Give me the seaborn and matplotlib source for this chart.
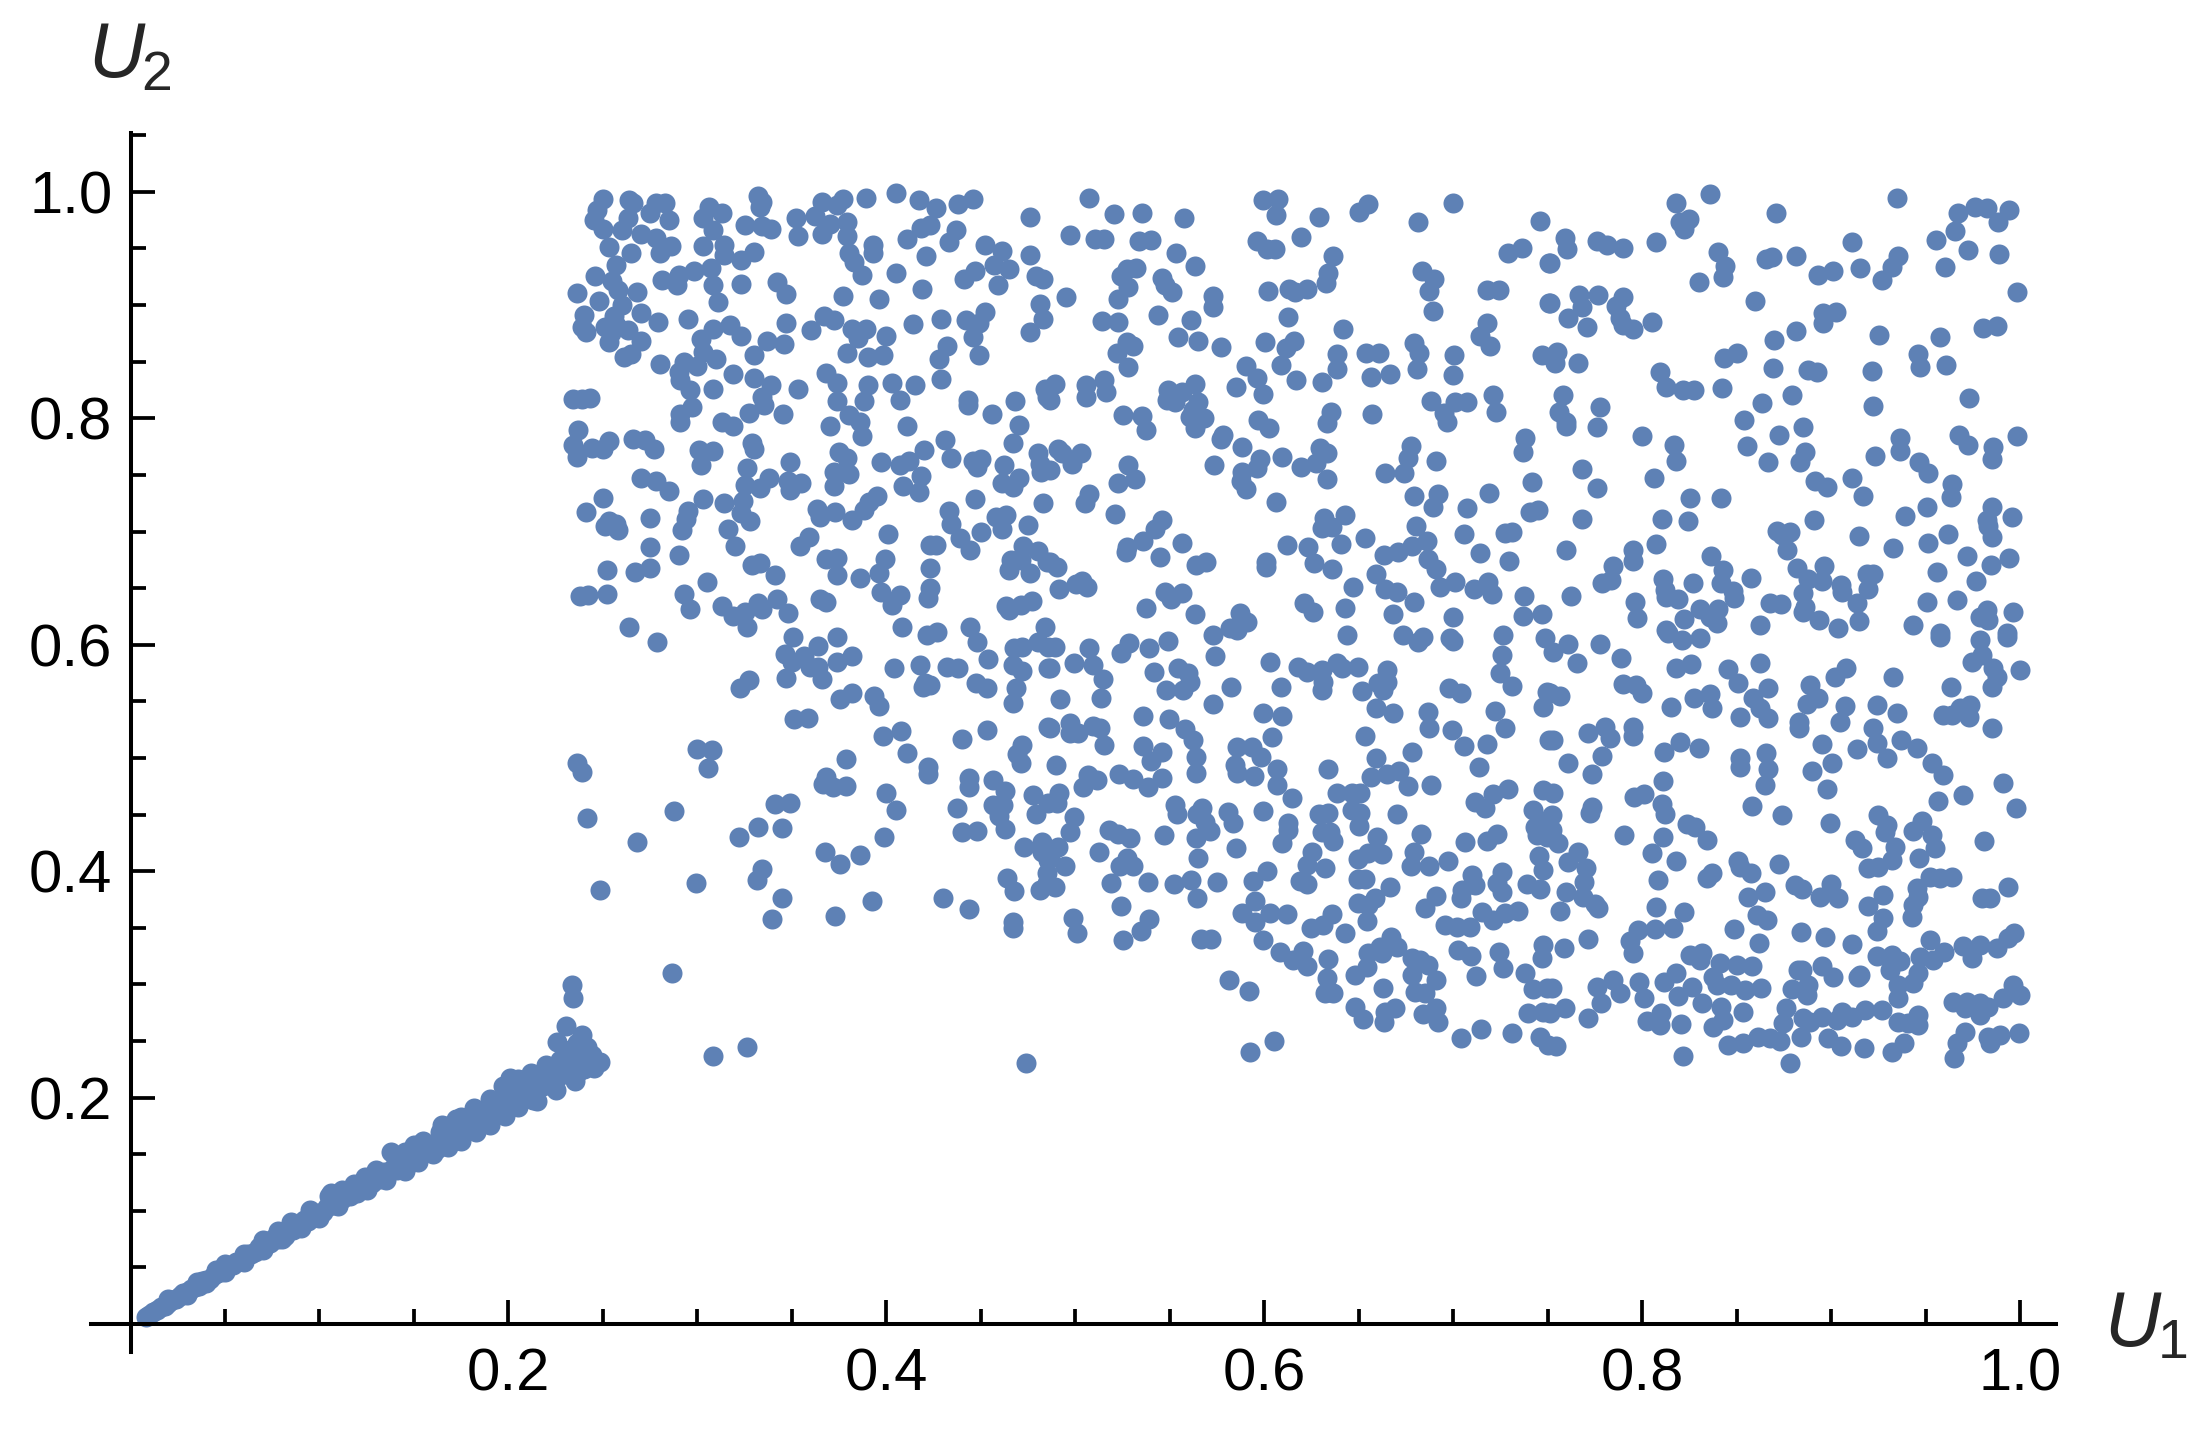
import matplotlib
matplotlib.use("Agg")
import matplotlib.pyplot as plt
import numpy as np
import pandas as pd
import seaborn as sns

# values, (U1, U2)
diagonal = [(.008,.006),(.010,.008),(.012,.011),(.014,.012),(.016,.015),(.018,.016),(.020,.019),(.022,.021),(.024,.022),(.026,.025),
(.028,.027),(.030,.028),(.032,.031),(.034,.033),(.036,.034),(.038,.038),(.040,.039),(.042,.040),(.044,.043),(.046,.045),
(.048,.046),(.050,.050),(.052,.051),(.054,.052),(.056,.055),(.058,.056),(.060,.058),(.062,.062),(.064,.062),(.066,.064),
(.068,.068),(.070,.067),(.072,.071),(.074,.072),(.076,.076),(.078,.075),(.080,.080),(.082,.078),(.084,.083),(.086,.083),
(.088,.087),(.090,.088),(.092,.092),(.094,.091),(.096,.095),(.098,.096),(.100,.098),(.102,.099),(.104,.103),(.106,.116),
(.107,.105),(.110,.108),(.112,.110),(.113,.114),(.116,.113),(.118,.118),(.120,.116),(.122,.121),(.124,.121),(.126,.125),
(.128,.125),(.130,.131),(.132,.128),(.134,.134),(.136,.133),(.138,.152),(.139,.138),(.141,.136),(.142,.146),(.145,.143),
(.146,.139),(.148,.150),(.150,.146),(.152,.153),(.154,.150),(.156,.156),(.158,.154),(.160,.158),(.162,.155),(.164,.170),
(.165,.160),(.167,.165),(.168,.175),(.170,.163),(.172,.181),(.174,.172),(.175,.167),(.177,.178),(.179,.174),(.181,.180),
(.182,.172),(.184,.186),(.186,.183),(.188,.179),(.190,.192),(.192,.187),(.194,.197),(.196,.186),(.198,.206),(.200,.197),
(.201,.217),(.203,.210),(.205,.203),(.207,.212),(.209,.205),(.211,.216),(.213,.198),(.214,.208),(.216,.219),(.218,.210),
(.220,.222),(.222,.214),(.224,.228),(.226,.218),(.228,.232),(.230,.222),(.232,.236),(.234,.226),(.236,.240),(.238,.228),
(.240,.244),(.242,.232),(.230,.240),(.236,.248),(.244,.238),(.240,.225)]

diagonal_low = [(.030,.026),(.050,.046),(.070,.065),(.090,.085),(.110,.104),(.125,.118),(.145,.135),(.160,.150),(.175,.162),(.190,.176),
(.205,.192),(.215,.197),(.225,.207),(.235,.215),(.245,.226),(.040,.036),(.060,.055),(.080,.075),(.100,.094),(.135,.127),
(.152,.143),(.168,.156),(.183,.170),(.198,.184)]

diagonal_high = [(.020,.022),(.035,.037),(.050,.053),(.060,.062),(.070,.074),(.085,.090),(.095,.101),(.105,.113),(.118,.124),(.130,.136),
(.145,.152),(.155,.162),(.165,.176),(.175,.183),(.190,.199),(.205,.216),(.220,.229),(.235,.245),(.045,.048),(.078,.082),
(.112,.118),(.124,.130),(.150,.158),(.182,.191),(.197,.210),(.212,.222)]

top_left = [(.250,.994),(.247,.984),(.245,.975),(.250,.967),(.253,.951),(.264,.993),(.266,.990),(.263,.977),(.260,.966),(.265,.946),
(.270,.963),(.278,.990),(.283,.990),(.275,.981),(.285,.975),(.278,.959),(.280,.946),(.286,.952),(.306,.987),(.303,.977),
(.313,.981),(.308,.966),(.303,.952),(.314,.953),(.314,.944),(.332,.996),(.334,.991),(.333,.987),(.325,.971),(.334,.970),
(.339,.967),(.330,.947),(.323,.940),(.352,.977),(.353,.961),(.366,.991),(.374,.988),(.377,.994),(.362,.979),(.370,.972),
(.379,.973),(.366,.963),(.379,.961),(.389,.995),(.405,.999),(.417,.993),(.426,.986),(.438,.989),(.446,.994),(.423,.971),
(.418,.968),(.411,.958),(.437,.966),(.433,.956),(.476,.978),(.393,.953),(.393,.946),(.380,.946),(.383,.938),(.387,.927),
(.421,.943),(.452,.953),(.461,.948),(.476,.944),(.465,.932),(.457,.935),(.447,.930),(.441,.923),(.459,.918),(.479,.926),
(.483,.923),(.405,.928),(.419,.914),(.396,.905),(.377,.908),(.342,.920),(.347,.910),(.323,.919),(.308,.918),(.311,.903),
(.307,.933),(.298,.930),(.290,.927),(.289,.918),(.281,.922),(.257,.935),(.246,.926),(.255,.921),(.236,.911),(.258,.913),
(.268,.912),(.248,.904),(.260,.900),(.240,.891),(.270,.893),(.279,.885),(.295,.888),(.239,.881),(.241,.876),(.251,.881),
(.256,.890),(.254,.875),(.257,.882),(.253,.867),(.263,.878),(.270,.868),(.265,.857),(.261,.854),(.308,.879),(.317,.882),
(.323,.873),(.302,.870),(.337,.868),(.346,.866),(.347,.884),(.360,.878),(.367,.890),(.372,.887),(.382,.879),(.389,.879),
(.385,.871),(.400,.873),(.414,.883),(.429,.888),(.442,.887),(.452,.894),(.449,.884),(.446,.872),(.483,.888),(.481,.901),
(.476,.876),(.432,.864),(.428,.852),(.449,.856),(.398,.856),(.390,.854),(.379,.858),(.330,.856),(.303,.859),(.310,.852),
(.300,.846),(.293,.850),(.290,.841),(.291,.834),(.280,.848),(.296,.825),(.319,.839),(.330,.836),(.339,.829),(.334,.819),
(.335,.812),(.327,.805),(.353,.826),(.368,.840),(.374,.831),(.390,.829),(.403,.831),(.415,.829),(.429,.835),(.308,.826),
(.374,.815),(.388,.815),(.407,.816),(.443,.816),(.443,.812),(.468,.815),(.484,.826),(.485,.819),(.456,.804),(.470,.794),
(.234,.817),(.239,.817),(.243,.818),(.297,.810),(.291,.804),(.291,.797),(.313,.797),(.319,.793),(.345,.804),(.380,.803),
(.386,.797),(.370,.793),(.387,.784),(.411,.793),(.431,.781),(.467,.778),(.237,.790),(.234,.776),(.236,.766),(.244,.774),
(.250,.773),(.253,.780),(.266,.782),(.272,.781),(.277,.773),(.301,.772),(.308,.771),(.302,.759),(.329,.778),(.330,.773),
(.326,.756),(.349,.761),(.375,.770),(.379,.765),(.372,.753),(.380,.751),(.372,.740),(.397,.761),(.407,.759),(.412,.762),
(.420,.772),(.418,.749),(.434,.765),(.446,.762),(.450,.764),(.448,.757),(.462,.759),(.480,.769),(.481,.760),(.482,.753),
(.270,.747),(.278,.745),(.285,.736),(.325,.741),(.333,.738),(.338,.747),(.348,.745),(.349,.737),(.355,.743),(.409,.740),
(.417,.735),(.461,.743),(.470,.747),(.467,.739),(.447,.729),(.250,.730),(.303,.729),(.314,.725),(.324,.727),(.323,.716),
(.328,.709),(.241,.717),(.295,.718),(.294,.711),(.292,.701),(.275,.712),(.253,.709),(.257,.707),(.251,.705),(.258,.701),
(.363,.720),(.365,.713),(.373,.717),(.382,.710),(.388,.719),(.391,.726),(.395,.731),(.433,.718),(.434,.707),(.458,.713),
(.463,.715),(.461,.702),(.483,.725),(.475,.706),(.450,.700),(.401,.698),(.316,.702),(.359,.695),(.354,.687),(.320,.687),
(.275,.686),(.439,.694),(.444,.684),(.423,.688),(.426,.688),(.472,.687),(.480,.683),(.466,.675),(.465,.666),(.476,.663),
(.471,.675),(.485,.673),(.290,.679),(.333,.672),(.329,.670),(.368,.676),(.374,.677),(.374,.662),(.399,.676),(.396,.663),
(.423,.668),(.386,.659),(.252,.666),(.275,.668),(.267,.664),(.305,.655),(.341,.662),(.238,.643),(.242,.644),(.252,.645),
(.293,.645),(.296,.632),(.313,.634),(.319,.625),(.325,.629),(.332,.637),(.334,.632),(.342,.640),(.348,.628),(.365,.640),
(.368,.638),(.397,.647),(.407,.644),(.403,.635),(.423,.650),(.422,.641),(.463,.634),(.465,.631),(.471,.635),(.477,.639),
(.264,.616),(.408,.616),(.444,.616),(.484,.616),(.326,.616)]

top_middle = [(.507,.995),(.5205,.9805),(.535,.981),(.5574,.9767),(.497,.962),(.5103,.958),(.515,.9584),(.5338,.957),(.54,.9573),(.5532,.9464),
(.5632,.9343),(.532,.9325),(.5274,.932),(.524,.9257),(.5276,.9163),(.5223,.905),(.546,.9237),(.5474,.9178),(.551,.9119),(.4948,.9075),
(.573,.9084),(.573,.8987),(.5142,.886),(.5223,.8854),(.5435,.8913),(.5611,.8869),(.5541,.872),(.565,.8683),(.577,.8633),(.5274,.8671),
(.5306,.8642),(.5218,.858),(.528,.8457),(.4891,.83),(.5056,.8294),(.5153,.8339),(.5056,.8186),(.516,.823),(.4865,.8162),(.5491,.825),
(.5482,.8162),(.5527,.8141),(.5562,.8236),(.5632,.8303),(.5646,.8147),(.5606,.8015),(.5641,.8015),(.568,.8),(.5632,.7912),(.5623,.8074),
(.5253,.803),(.535,.802),(.5373,.7897),(.4909,.7726),(.4927,.7691),(.5027,.7697),(.498,.7597),(.4865,.7543),(.5276,.7588),(.5315,.7461),
(.5227,.7426),(.5073,.7331),(.505,.7249),(.5209,.7155),(.5456,.7102),(.5421,.7022),(.5355,.6919),(.5274,.686),(.5267,.6816),(.5562,.69),
(.5447,.6778),(.49,.6689),(.4865,.6734),(.5638,.6704),(.569,.6734),(.4914,.6492),(.5003,.6533),(.5036,.6566),(.5063,.6513),(.5474,.6463),
(.5504,.6404),(.5562,.6454),(.5371,.6327),(.5634,.6268),(.587,.6277),(.5906,.6203),(.5818,.6145),(.5994,.9929),(.607,.9938),(.6061,.9796),
(.5962,.957),(.6012,.9496),(.6056,.9493),(.6193,.9605),(.629,.9776),(.6502,.9826),(.655,.9894),(.681,.9732),(.7,.99),(.6363,.9434),
(.6338,.9281),(.6324,.9199),(.602,.9125),(.6132,.9143),(.6161,.9119),(.6227,.9143),(.6126,.8898),(.6417,.8789),(.6003,.8677),(.6156,.8683),
(.6112,.8624),(.6386,.8568),(.6386,.8433),(.59,.8465),(.5959,.8353),(.5994,.8212),(.6087,.8471),(.5849,.8274),(.6165,.8336),(.6304,.8321),
(.6536,.858),(.6608,.858),(.6562,.8362),(.6664,.8395),(.6793,.8663),(.682,.858),(.6805,.8436),(.7003,.856),(.7,.8383),(.6832,.9305),
(.6897,.9231),(.6872,.9125),(.6894,.8948),(.7287,.9458),(.7361,.9502),(.7458,.9743),(.7507,.937),(.718,.9134),(.7241,.9134),(.7507,.9016),
(.718,.8839),(.714,.8727),(.7194,.8639),(.747,.856),(.688,.8153),(.7008,.8147),(.7074,.8141),(.6952,.8044),(.6964,.7965),(.7211,.8206),
(.7225,.8059),(.6571,.8035),(.6352,.8059),(.6329,.7956),(.5968,.7985),(.6026,.7912),(.5782,.7853),(.577,.7815),(.5883,.7747),(.5735,.7591),
(.5976,.7641),(.5962,.7564),(.6095,.7655),(.588,.7529),(.5874,.7449),(.59,.7376),(.6192,.7567),(.6271,.7602),(.6294,.7735),(.6329,.7697),
(.6333,.7464),(.6774,.7756),(.6761,.7647),(.674,.7514),(.6638,.7514),(.6908,.7623),(.7379,.7823),(.737,.77),(.7418,.744),(.6791,.7317),
(.692,.7328),(.689,.722),(.7073,.7211),(.719,.7337),(.7405,.7175),(.7449,.719),(.6061,.7264),(.6315,.7122),(.6426,.7146),(.6303,.7028),
(.6356,.7037),(.6802,.705),(.6121,.6881),(.6232,.686),(.6264,.6725),(.6403,.689),(.653,.694),(.6008,.6734),(.6008,.6683),(.6356,.6669),
(.6633,.6793),(.6708,.6816),(.6782,.6875),(.6858,.6919),(.7056,.6978),(.7141,.6807),(.7273,.6984),(.7308,.6999),(.7296,.674),(.6864,.6754),
(.6908,.6669),(.6589,.6625),(.647,.6507),(.6638,.6489),(.6703,.6469),(.6791,.6374),(.6929,.6513),(.7008,.6551),(.7109,.6489),(.7185,.6551),
(.7202,.6448),(.7373,.643),(.737,.6256),(.7467,.6271),(.7,.6248),(.6678,.6268),(.6426,.6321),(.6209,.6371),(.6259,.6292)]

top_right = [(.8357,.9982),(.818,.9905),(.8198,.9738),(.8246,.9761),(.8221,.967),(.8704,.9817),(.9348,.9944),(.7589,.959),(.7603,.9493),(.7762,.9567),
(.781,.9531),(.7895,.9502),(.8071,.9555),(.751,.9375),(.8397,.9467),(.8436,.9349),(.8424,.9252),(.8299,.9202),(.8653,.9408),(.8683,.9428),
(.881,.9437),(.893,.9266),(.9006,.9305),(.9106,.9555),(.9151,.9331),(.9353,.9434),(.9318,.9334),(.9269,.9222),(.9553,.9573),(.9671,.9811),
(.9653,.9655),(.9759,.9864),(.9821,.9855),(.9883,.9738),(.9939,.9841),(.9724,.9487),(.9888,.9452),(.96,.9334),(.998,.9113),(.751,.9022),
(.7665,.909),(.7766,.909),(.7678,.8981),(.7607,.8883),(.7708,.8804),(.7898,.9069),(.7858,.8995),(.788,.8883),(.7898,.8825),(.7951,.879),
(.8048,.8851),(.8595,.904),(.8956,.8928),(.8956,.8839),(.9022,.8936),(.8812,.8772),(.8697,.8692),(.9251,.8739),(.9574,.8716),(.98,.8795),
(.9874,.8819),(.9456,.8565),(.9468,.8456),(.9604,.8471),(.8498,.8574),(.8431,.853),(.7549,.8589),(.7536,.8486),(.766,.8486),(.8092,.8412),
(.8122,.828),(.8216,.825),(.8272,.825),(.8422,.8265),(.8692,.8448),(.8877,.8427),(.8921,.8409),(.9216,.8421),(.7582,.8206),(.7559,.8059),
(.7598,.797),(.7593,.7932),(.7775,.8097),(.7757,.7926),(.7999,.7844),(.8168,.7764),(.8175,.7623),(.863,.8133),(.8789,.8206),(.8538,.7985),
(.9221,.8109),(.9729,.8177),(.885,.7921),(.8724,.7853),(.8551,.7756),(.8662,.7617),(.886,.7705),(.8833,.7611),(.923,.767),(.9362,.7823),
(.9362,.7714),(.9674,.7853),(.9724,.7764),(.9856,.775),(.9851,.7638),(.9983,.7844),(.9465,.7611),(.9512,.752),(.7681,.7552),(.7757,.7381),
(.8062,.7476),(.8912,.7446),(.8974,.7396),(.911,.747),(.9168,.7317),(.9636,.742),(.9632,.7302),(.8254,.7293),(.8413,.7296),(.9503,.722),
(.9389,.7137),(.9851,.7214),(.9821,.7102),(.983,.7049),(.9851,.6954),(.9953,.7125),(.7678,.7108),(.8104,.7108),(.8242,.7096),(.871,.7007),
(.878,.6999),(.8736,.6969),(.8766,.6837),(.8909,.7102),(.9145,.696),(.9614,.6978),(.9509,.6902),(.9327,.6852),(.8071,.689),(.7951,.6837),
(.7951,.6742),(.7598,.6837),(.9719,.6784),(.9844,.6704),(.9941,.6763),(.956,.6645),(.9763,.6563),(.836,.6784),(.8427,.666),(.8574,.6587),
(.8413,.6542),(.8269,.6548),(.8815,.6681),(.896,.6698),(.8877,.6578),(.8948,.6566),(.7842,.6695),(.7836,.6572),(.7787,.6542),(.9186,.6625),
(.9221,.6625),(.9191,.6489),(.905,.6528),(.9057,.6469),(.8106,.6578),(.8119,.6483),(.8127,.6424),(.8189,.6404),(.7621,.643),(.7963,.6374),
(.7969,.6233),(.848,.6478),(.8484,.641),(.8304,.6313),(.8401,.6316),(.8357,.6248),(.8392,.6189),(.8221,.6224),(.8674,.6366),(.8731,.6357),
(.8851,.646),(.886,.6336),(.8847,.6292),(.9133,.6371),(.9145,.6212),(.8934,.6218),(.9507,.6374),(.9662,.6395),(.9821,.6307),(.9786,.6248),
(.983,.6218),(.9962,.6292),(.8621,.6174),(.943,.6174),(.9036,.6145),(.9574,.61),(.9927,.61),(.8127,.613)]

low_left = [(.2785,.6028),(.3504,.6072),(.3635,.5993),(.3737,.6066),(.3464,.5919),(.3561,.5901),(.3499,.5851),(.3596,.5807),(.364,.5801),(.3467,.571),
(.3658,.5695),(.3737,.5851),(.3816,.5904),(.327,.5689),(.3225,.5616),(.4042,.5798),(.4178,.5822),(.4319,.5807),(.4376,.5798),(.4213,.6087),
(.4266,.6116),(.4478,.6028),(.4536,.5875),(.4675,.5969),(.4716,.5978),(.4804,.6028),(.4672,.5822),(.4716,.5772),(.4857,.5792),(.4857,.5984),
(.4205,.566),(.4231,.5645),(.4192,.563),(.4473,.566),(.4534,.5622),(.4684,.5615),(.4672,.5483),(.3755,.5521),(.3816,.5571),(.3935,.5551),
(.3963,.5462),(.3508,.5342),(.3587,.5351),(.3979,.5194),(.4076,.5239),(.4534,.5247),(.4399,.5168),(.4857,.5277),(.4716,.5115),(.469,.5035),
(.4711,.4959),(.2996,.508),(.3076,.5071),(.3054,.4915),(.3785,.4988),(.4108,.5041),(.4219,.4924),(.4222,.4856),(.2361,.4959),(.2388,.4879),
(.3681,.4835),(.3666,.477),(.3716,.4747),(.3785,.4756),(.4434,.482),(.4437,.4747),(.4566,.4806),(.4628,.4712),(.4563,.4585),(.4619,.4585),
(.4593,.4491),(.4628,.437),(.4773,.4673),(.479,.4505),(.4857,.4606),(.3998,.4694),(.4049,.4541),(.4372,.4561),(.3411,.4594),(.3487,.4605),
(.2878,.4535),(.2414,.4467),(.3322,.4393),(.3449,.4379),(.3217,.4299),(.4402,.4343),(.4478,.4355),(.3989,.4305),(.2682,.4255),(.3675,.4173),
(.3755,.4061),(.3861,.414),(.4725,.4211),(.4822,.4261),(.4822,.4173),(.4857,.41),(.334,.4016),(.3314,.3922),(.4637,.3937),(.4677,.3825),
(.4848,.3981),(.4848,.3893),(.4813,.3834),(.2991,.3893),(.2485,.3831),(.3446,.3766),(.3922,.3734),(.4298,.3766),(.4434,.3666),(.3393,.3575),
(.3725,.3604),(.4667,.3554),(.4667,.3495),(.2867,.3104),(.2338,.2995),(.2343,.2883),(.2303,.2632),(.2391,.2553),(.2255,.2494),(.2414,.245),
(.2485,.2311),(.3084,.2367),(.3261,.245),(.4737,.2302),(.2326,.242),(.2273,.2332),(.2361,.2302),(.2246,.2215),(.2308,.2229),(.237,.2229)]

low_middle = [(.4891,.5978),(.5073,.5969),(.4992,.584),(.5094,.5822),(.5147,.5695),(.4918,.5518),(.5135,.5527),(.4865,.5792),(.5285,.6013),(.5239,.5925),
(.5389,.5975),(.5488,.6037),(.5729,.6087),(.5853,.6131),(.5738,.5901),(.5415,.5763),(.5544,.5792),(.5597,.5748),(.5606,.5675),(.5571,.5601),
(.5477,.5601),(.5821,.563),(.573,.5477),(.603,.5845),(.6087,.5624),(.6179,.5807),(.6223,.5763),(.6303,.5778),(.6312,.5675),(.6303,.5601),
(.6386,.5836),(.6409,.5792),(.6497,.5807),(.665,.5778),(.6647,.5675),(.6603,.566),(.6629,.5601),(.6518,.5592),(.6435,.6087),(.6735,.6087),
(.6814,.6028),(.6837,.6066),(.6982,.6057),(.7,.6037),(.7264,.6087),(.7259,.591),(.7246,.5748),(.7308,.5636),(.6978,.5616),(.7038,.5571),
(.7485,.6057),(.7493,.5586),(.7476,.5448),(.7507,.5159),(.659,.5445),(.6682,.5395),(.6864,.5404),(.6873,.5262),(.6991,.5247),(.7058,.5106),
(.7176,.5121),(.7135,.4918),(.722,.5418),(.7273,.5262),(.599,.5395),(.6095,.5371),(.6038,.5183),(.6532,.5197),(.6782,.5056),(.659,.5),
(.5355,.5371),(.5495,.5345),(.5579,.5253),(.5624,.5159),(.5636,.5012),(.5636,.487),(.4971,.5306),(.4865,.5262),(.4971,.5218),(.5015,.5218),
(.5094,.5283),(.513,.5262),(.5153,.5115),(.5355,.5106),(.546,.5056),(.54,.4976),(.4897,.4938),(.5068,.485),(.5112,.4806),(.5041,.4741),
(.523,.4856),(.5302,.4815),(.5385,.4741),(.5456,.4826),(.5853,.51),(.5932,.5094),(.598,.5006),(.5844,.4938),(.5853,.4865),(.5945,.4844),
(.6068,.4903),(.6068,.4762),(.6338,.4903),(.6564,.4835),(.6647,.4859),(.6712,.4885),(.6758,.4755),(.688,.4762),(.6386,.4688),(.6461,.4688),
(.6505,.4688),(.6461,.4541),(.6505,.4517),(.6502,.4399),(.6144,.4644),(.4914,.4694),(.49,.46),(.5527,.4585),(.5535,.4502),(.5671,.4555),
(.5645,.4502),(.5685,.4438),(.5712,.4355),(.5809,.4526),(.5835,.4429),(.5994,.4532),(.4992,.4482),(.4971,.4343),(.5179,.4364),(.5227,.4329),
(.5288,.4296),(.547,.432),(.5636,.429),(.565,.412),(.5849,.4202),(.6126,.4423),(.6123,.4364),(.6095,.4252),(.629,.4502),(.6338,.4511),
(.6303,.4349),(.6347,.4349),(.6361,.4267),(.67,.4505),(.6594,.4299),(.662,.4152),(.655,.4158),(.6497,.4105),(.6828,.4329),(.7061,.4261),
(.7176,.4267),(.7232,.4326),(.7114,.4608),(.7167,.4561),(.7211,.4682),(.7287,.4726),(.7476,.4717),(.7423,.4541),(.7432,.4393),(.744,.432),
(.7493,.4305),(.7502,.4452),(.6793,.4173),(.6776,.4046),(.687,.4046),(.697,.409),(.4909,.4217),(.4944,.4046),(.4865,.4128),(.4891,.3858),
(.5124,.4173),(.5274,.4114),(.5235,.4046),(.5302,.4046),(.5186,.3893),(.5385,.3902),(.5523,.3884),(.5611,.392),(.5747,.3908),(.5641,.376),
(.5239,.3692),(.4988,.3584),(.5006,.3451),(.5387,.3575),(.5345,.3472),(.5253,.3392),(.5664,.3398),(.5715,.3398),(.6012,.4005),(.5938,.3913),
(.625,.4173),(.6223,.4055),(.632,.4025),(.6188,.3916),(.6223,.3887),(.6497,.3928),(.6532,.3928),(.6664,.3857),(.6585,.376),(.6497,.3716),
(.655,.3701),(.6544,.356),(.6906,.3781),(.685,.3672),(.7096,.3966),(.7114,.3878),(.7043,.3834),(.7038,.3766),(.7255,.3996),(.7229,.3893),
(.7255,.382),(.7388,.3884),(.7458,.384),(.7453,.4134),(.7476,.401),(.595,.374),(.5879,.3628),(.595,.3554),(.6029,.3628),(.6121,.3622),
(.6356,.3619),(.6312,.3525),(.6244,.3501),(.6428,.3457),(.5994,.3392),(.6082,.3289),(.6153,.3215),(.6206,.3298),(.6223,.3162),(.6338,.3224),
(.667,.3422),(.67,.3333),(.6612,.3333),(.655,.3274),(.662,.3274),(.6541,.3151),(.6479,.3083),(.6779,.323),(.6823,.3215),(.6867,.3171),
(.6779,.3083),(.6906,.3039),(.6329,.3053),(.6343,.2936),(.6365,.2921),(.6321,.2921),(.6629,.2965),(.6797,.2936),(.6849,.2921),(.5814,.3039),
(.5918,.2944),(.6955,.3525),(.7017,.351),(.7088,.3504),(.715,.3642),(.7211,.3569),(.7273,.3628),(.7343,.3651),(.7026,.3304),(.7091,.3251),
(.7241,.3283),(.726,.3142),(.7118,.3077),(.7476,.3348),(.7467,.323),(.7379,.3098),(.7423,.2956),(.7493,.2965),(.6479,.2803),(.6523,.2694),
(.6691,.2794),(.6638,.2759),(.6634,.2671),(.6837,.2735),(.6908,.2788),(.692,.2671),(.7396,.2744),(.7476,.2759),(.7458,.2538),(.7502,.2464),
(.7038,.2523),(.7144,.2603),(.7308,.2574),(.6052,.2497),(.5923,.24)]

low_right = [(.7607,.6004),(.7528,.594),(.7651,.5836),(.7775,.6007),(.7886,.5881),(.8136,.6102),(.8207,.6043),(.8304,.6057),(.818,.5792),(.8256,.5828),
(.845,.5783),(.8503,.5666),(.8621,.5836),(.8665,.5616),(.8586,.5527),(.8621,.5439),(.8665,.5356),(.8516,.5359),(.7895,.5651),(.7965,.5645),
(.7999,.5571),(.7563,.5548),(.751,.5571),(.8274,.5527),(.8357,.5563),(.8366,.5445),(.8149,.5448),(.7713,.5218),(.7801,.5271),(.7828,.5174),
(.7951,.5271),(.7951,.5197),(.7528,.5159),(.7787,.5018),(.7607,.4953),(.7731,.4856),(.8115,.5056),(.8198,.5144),(.83,.5086),(.8106,.48),
(.7956,.4658),(.8009,.4679),(.8101,.4594),(.8119,.4505),(.7734,.457),(.7722,.4517),(.7528,.4688),(.7519,.4497),(.7519,.4364),(.7554,.4246),
(.7903,.432),(.8106,.43),(.8237,.4414),(.8277,.4393),(.8339,.4276),(.8053,.4158),(.8175,.4093),(.766,.4173),(.7607,.4078),(.7701,.4025),
(.7692,.3907),(.7595,.3813),(.7686,.3775),(.7748,.371),(.7766,.3672),(.7563,.3651),(.808,.3922),(.8339,.3937),(.8369,.3981),(.8507,.409),
(.8516,.404),(.8574,.3987),(.8724,.4061),(.8515,.4997),(.8515,.4918),(.8653,.5041),(.8665,.49),(.8648,.4762),(.8577,.4579),(.8736,.4497),
(.8992,.4423),(.8948,.5124),(.9001,.4953),(.8895,.4885),(.8974,.4723),(.9133,.508),(.8886,.5645),(.893,.5527),(.8868,.5477),(.9071,.546),
(.9045,.5321),(.883,.5321),(.883,.5262),(.9018,.5719),(.9077,.5798),(.9327,.5719),(.9239,.5468),(.9345,.5395),(.963,.5624),(.9588,.538),
(.9636,.538),(.968,.5439),(.9733,.5468),(.9727,.5359),(.9847,.5262),(.9221,.5262),(.9239,.513),(.9295,.5003),(.9368,.5159),(.945,.5091),
(.9533,.4959),(.9588,.485),(.9697,.4673),(.9565,.462),(.9909,.4776),(.9974,.4561),(.9786,.6043),(.9794,.591),(.9741,.5845),(.9856,.5792),
(.9874,.5719),(.9851,.563),(.9997,.5778),(.9574,.6072),(.993,.6072),(.9248,.4497),(.9295,.4408),(.9283,.4349),(.9477,.4447),(.9433,.4355),
(.953,.432),(.9548,.4202),(.9336,.4217),(.9318,.41),(.9124,.4276),(.9159,.4208),(.9195,.4025),(.9248,.404),(.9465,.4114),(.9809,.427),
(.9521,.3946),(.9574,.3937),(.9636,.3946),(.945,.3849),(.9459,.3775),(.9433,.3701),(.9424,.3598),(.9274,.379),(.9195,.3693),(.927,.3584),
(.9239,.3472),(.8807,.3878),(.8842,.384),(.8995,.3884),(.8939,.3769),(.9036,.376),(.8648,.3819),(.856,.3775),(.8604,.3613),(.8657,.3569),
(.8486,.3489),(.8616,.3363),(.8837,.346),(.8965,.3422),(.911,.3354),(.9794,.376),(.9838,.376),(.9932,.3863),(.8074,.3687),(.8221,.3637),
(.8066,.3489),(.7974,.348),(.8159,.35),(.7933,.3383),(.7951,.3274),(.7713,.3398),(.7584,.3324),(.8251,.326),(.8316,.3274),(.8304,.3215),
(.841,.3186),(.8498,.3171),(.8577,.3162),(.8374,.3068),(.8392,.2995),(.8471,.2995),(.8542,.2951),(.8625,.2965),(.8175,.3098),(.8115,.3024),
(.826,.298),(.8189,.29),(.8313,.2839),(.8418,.2803),(.8427,.2685),(.8374,.2626),(.8533,.2759),(.7983,.3018),(.8009,.2877),(.7757,.2974),
(.7845,.3039),(.7783,.2833),(.788,.2921),(.7589,.2788),(.7713,.2706),(.7519,.2965),(.751,.2744),(.8022,.268),(.8097,.2744),(.8092,.2641),
(.8203,.265),(.754,.2456),(.8216,.237),(.8454,.2464),(.8533,.2479),(.8613,.2538),(.8674,.2523),(.8727,.2503),(.8824,.3127),(.8842,.3127),
(.8948,.3162),(.9009,.3068),(.8877,.2995),(.8789,.2956),(.8868,.2906),(.8762,.2788),(.8745,.2656),(.8851,.27),(.8886,.2671),(.8837,.2532),
(.8983,.2523),(.905,.2456),(.878,.2303),(.9173,.2435),(.9318,.2406),(.9385,.2485),(.8951,.2715),(.9057,.2753),(.9106,.2709),(.9177,.2774),
(.9265,.2774),(.9027,.2685),(.9353,.2671),(.9406,.2662),(.9459,.2641),(.9459,.2729),(.9353,.2877),(.9353,.2995),(.9151,.3083),(.9142,.3068),
(.9239,.3251),(.9318,.326),(.9362,.3209),(.931,.3127),(.9468,.3245),(.9539,.3215),(.9597,.3289),(.9521,.3392),(.9459,.3098),(.9433,.3009),
(.9697,.3339),(.9786,.3348),(.9741,.323),(.9874,.3318),(.9936,.3407),(.9967,.3457),(.9644,.2847),(.9715,.2847),(.9706,.2788),(.9786,.2833),
(.983,.2803),(.9786,.2729),(.9909,.288),(.9997,.2906),(.9962,.2995),(.9706,.2582),(.9662,.2479),(.9648,.2347),(.983,.2538),(.9892,.2553),
(.9838,.2479),(.9994,.2574)]

major_ticks = [0.2, 0.4, 0.6, 0.8, 1.0]
minor_x = [0.05, 0.1, 0.15, 0.25, 0.3, 0.35, 0.45, 0.5, 0.55, 0.65, 0.7, 0.75, 0.85, 0.9, 0.95]
minor_y = minor_x + [1.05]

W, H = 2197, 1440

sns.set_style("white")
plt.rcParams['font.family'] = ['Liberation Sans', 'DejaVu Sans']

points = diagonal + diagonal_low + diagonal_high + top_left + top_middle + top_right + low_left + low_middle + low_right
df = pd.DataFrame(points, columns=['U1', 'U2'])

fig = plt.figure(figsize=(W / 200, H / 200), dpi=200)
ax = fig.add_axes([91 / W, 1 - 1352 / H, (2056 - 91) / W, (1352 - 133) / H])

sns.scatterplot(data=df, x='U1', y='U2', color='#5E81B5', s=52, linewidth=0, alpha=1, ax=ax, zorder=3)

ax.set_xlim(-0.0209, 1.0188)
ax.set_ylim(-0.0247, 1.052)
ax.set_xlabel('')
ax.set_ylabel('')

ax.spines['top'].set_visible(False)
ax.spines['right'].set_visible(False)
for side in ['left', 'bottom']:
    ax.spines[side].set_position(('data', 0))
    ax.spines[side].set_linewidth(1.45)
    ax.spines[side].set_color('black')
    ax.spines[side].set_zorder(5)

ax.set_xticks(major_ticks)
ax.set_yticks(major_ticks)
ax.set_xticklabels([f'{t:.1f}' for t in major_ticks])
ax.set_yticklabels([f'{t:.1f}' for t in major_ticks])
ax.set_xticks(minor_x, minor=True)
ax.set_yticks(minor_y, minor=True)
ax.tick_params(axis='both', which='major', direction='in', length=8.6, width=1.35, labelsize=21.5, color='black', labelcolor='black')
ax.tick_params(axis='both', which='minor', direction='in', length=5.4, width=1.35, color='black')
ax.tick_params(axis='x', which='major', pad=8.5, bottom=True)
ax.tick_params(axis='x', which='minor', bottom=True)
ax.tick_params(axis='y', which='major', pad=6.5, left=True)
ax.tick_params(axis='y', which='minor', left=True)
ax.patch.set_visible(False)

# axis names sit outside the axes
fig.text(88 / W, 1 - 77 / H, 'U', fontsize=28, style='italic', va='baseline')
fig.text(141 / W, 1 - 90 / H, '2', fontsize=20, va='baseline')
fig.text(2104 / W, 1 - 1346 / H, 'U', fontsize=28, style='italic', va='baseline')
fig.text(2158 / W, 1 - 1358 / H, '1', fontsize=20, va='baseline')

fig.savefig('out.png', dpi=200, facecolor='white')
plt.close(fig)
